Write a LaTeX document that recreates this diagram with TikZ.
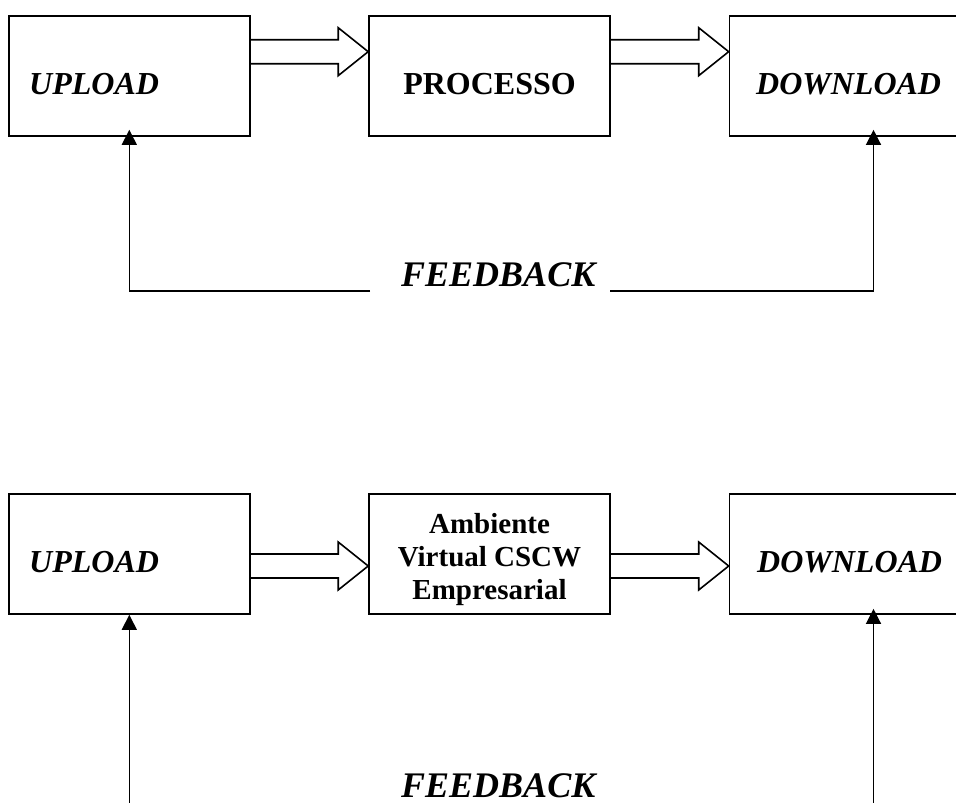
\documentclass[tikz,border=0pt]{standalone}
\usepackage{fontspec}
\setmainfont{Liberation Serif}
\usetikzlibrary{arrows.meta,calc}
\tikzset{
  bloco/.style={draw, line width=1.6pt, inner sep=0pt, minimum width=241pt, minimum height=120pt},
  texto/.style={inner sep=0pt, font=\fontsize{32}{38}\selectfont\bfseries},
  italico/.style={inner sep=0pt, font=\fontsize{32}{38}\selectfont\bfseries\itshape},
  grande/.style={inner sep=0pt, font=\fontsize{36}{42}\selectfont\bfseries\itshape},
  contorno/.style={line width=1.6pt, line join=miter},
  retorno/.style={line width=1.3pt, -{Triangle[width=15pt,length=15pt]}},
}
\newcommand{\setaoca}[3]{%
  \draw[contorno] (#1.east |- 0,#3-12) -- ($(#2.west |- 0,#3-12)+(-30,0)$)
    -- ($(#2.west |- 0,#3-24)+(-30,0)$) -- (#2.west |- 0,#3)
    -- ($(#2.west |- 0,#3+24)+(-30,0)$) -- ($(#2.west |- 0,#3+12)+(-30,0)$)
    -- (#1.east |- 0,#3+12);}
\begin{document}
\begin{tikzpicture}[x=1pt, y=-1pt]
  \useasboundingbox (0,0) rectangle (956,803);
  \clip (0,0) rectangle (956,803);
  % primeiro esquema
  \node[bloco] (up1) at (129.3,76) {};
  \node[bloco] (pr1) at (489.5,76) {};
  \node[bloco, minimum width=288pt] (dw1) at (873.5,76) {};
  \node[italico, anchor=base west] (up1t) at (29,94) {UPLOAD};
  \node[texto, anchor=base] (pr1t) at (489.5,94) {PROCESSO};
  \node[italico, anchor=base west] (dw1t) at (756,94) {DOWNLOAD};
  \setaoca{up1}{pr1}{51.7}
  \setaoca{pr1}{dw1}{51.7}
  \node[grande, anchor=base west] (fb1) at (401,286) {FEEDBACK};
  \coordinate (fe1) at (370,291);
  \coordinate (fd1) at (610,291);
  \draw[retorno] (fe1) -| ([yshift=7pt]up1.south);
  \draw[retorno] (fd1) -| ([yshift=7pt]dw1.south);
  % segundo esquema
  \node[bloco] (up2) at (129.3,554) {};
  \node[bloco] (av2) at (489.5,554) {};
  \node[bloco, minimum width=288pt] (dw2) at (873.5,554) {};
  \node[italico, anchor=base west] (up2t) at (29,572) {UPLOAD};
  \node[inner sep=0pt, align=center, anchor=base, font=\fontsize{29}{33}\selectfont\bfseries] (av2t) at (489.5,599) {Ambiente\\Virtual CSCW\\Empresarial};
  \node[italico, anchor=base west] (dw2t) at (757,572) {DOWNLOAD};
  \setaoca{up2}{av2}{566}
  \setaoca{av2}{dw2}{566}
  \node[grande, anchor=base west] (fb2) at (401,797) {FEEDBACK};
  \coordinate (pe2) at (129.3,815);
  \coordinate (pd2) at (873.5,815);
  \draw[retorno] (pe2) -- (up2.south);
  \draw[retorno] (pd2) -- ([yshift=6pt]dw2.south);
\end{tikzpicture}
\end{document}
